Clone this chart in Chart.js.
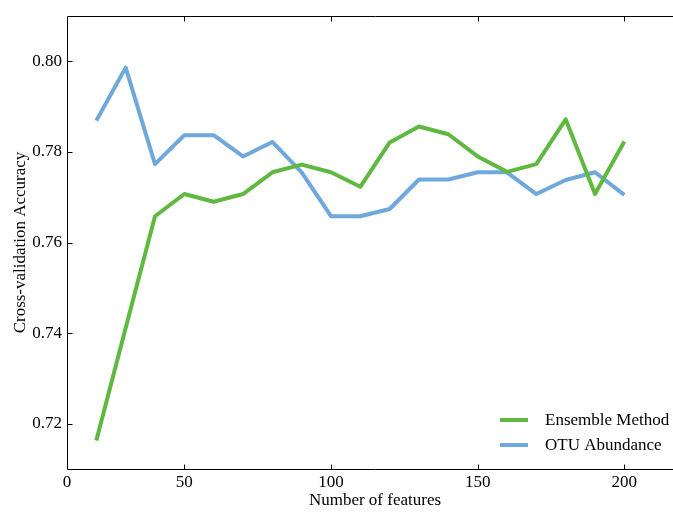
<!DOCTYPE html>
<html>
<head>
<meta charset="utf-8">
<title>Cross-validation Accuracy</title>
<script src="https://cdn.jsdelivr.net/npm/chart.js@4.4.1/dist/chart.umd.min.js"></script>
<style>
  html, body { margin: 0; padding: 0; background: #ffffff; overflow: hidden; }
  #wrap { position: absolute; left: 0; top: 0; width: 690px; height: 513px; }
</style>
</head>
<body>
<div id="wrap"><canvas id="chart" width="690" height="513"></canvas></div>
<script>
// Number of features used in each cross-validation run
const features = [20, 30, 40, 50, 60, 70, 80, 90, 100, 110, 120, 130, 140, 150, 160, 170, 180, 190, 200];

// Cross-validation accuracy for each feature count
const ensembleMethod = [0.7163, 0.7411, 0.7658, 0.7707, 0.7690, 0.7707, 0.7755, 0.7772, 0.7755, 0.7723,
                        0.7821, 0.7856, 0.7839, 0.7790, 0.7756, 0.7773, 0.7872, 0.7707, 0.7823];
const otuAbundance   = [0.7869, 0.7986, 0.7773, 0.7837, 0.7837, 0.7790, 0.7822, 0.7755, 0.7658, 0.7658,
                        0.7674, 0.7739, 0.7739, 0.7755, 0.7755, 0.7707, 0.7738, 0.7755, 0.7705];

// Axis ticks
const xTickValues = [10, 50, 100, 150, 200];
const xTickLabels = ['0', '50', '100', '150', '200'];
const yTickValues = [0.72, 0.74, 0.76, 0.78, 0.80];

const seriesNames = ['Ensemble Method', 'OTU Abundance'];
const seriesColors = ['#5fb941', '#6ea8dc'];

const FONT = "'Liberation Serif', 'Times New Roman', serif";
Chart.defaults.font.family = FONT;
Chart.defaults.font.size = 17;
Chart.defaults.color = '#000000';

// Frame with inward tick marks on bottom, top and left
const framePlugin = {
  id: 'frame',
  afterDraw(chart) {
    const {ctx, chartArea: a, scales: {x, y}} = chart;
    const L = Math.round(a.left) + 0.5, R = Math.round(a.right) + 0.5;
    const T = Math.round(a.top) + 0.5, B = Math.round(a.bottom) + 0.5;
    ctx.save();
    ctx.strokeStyle = '#000000';
    ctx.lineWidth = 1;
    ctx.beginPath();
    ctx.rect(L, T, R - L, B - T);
    ctx.stroke();
    const tl = 5;
    ctx.beginPath();
    xTickValues.forEach(v => {
      const px = Math.round(x.getPixelForValue(v)) + 0.5;
      if (px <= L + 1) return;
      ctx.moveTo(px, B); ctx.lineTo(px, B - tl);
      ctx.moveTo(px, T); ctx.lineTo(px, T + tl);
    });
    yTickValues.forEach(v => {
      const py = Math.round(y.getPixelForValue(v)) + 0.5;
      ctx.moveTo(L, py); ctx.lineTo(L + tl, py);
      ctx.moveTo(R, py); ctx.lineTo(R - tl, py);
    });
    ctx.stroke();
    ctx.restore();
  }
};

// Legend in the lower right of the plot
const legendPlugin = {
  id: 'cornerLegend',
  afterDatasetsDraw(chart) {
    const {ctx, chartArea: a} = chart;
    ctx.save();
    ctx.font = '17px ' + FONT;
    ctx.textBaseline = 'middle';
    ctx.textAlign = 'left';
    const x0 = a.right - 183;
    const rows = [a.bottom - 49, a.bottom - 24];
    chart.data.datasets.forEach((ds, i) => {
      const yy = rows[i];
      ctx.strokeStyle = ds.borderColor;
      ctx.lineWidth = 4;
      ctx.beginPath();
      ctx.moveTo(x0, yy); ctx.lineTo(x0 + 28, yy);
      ctx.stroke();
      ctx.fillStyle = '#000000';
      ctx.fillText(ds.label, x0 + 45, yy + 1);
    });
    ctx.restore();
  }
};

new Chart(document.getElementById('chart'), {
  type: 'line',
  data: {
    datasets: [
      {
        label: seriesNames[0],
        data: features.map((f, i) => ({x: f, y: ensembleMethod[i]})),
        borderColor: seriesColors[0],
        backgroundColor: seriesColors[0],
        borderWidth: 4,
        pointRadius: 0,
        tension: 0,
        fill: false,
        borderJoinStyle: 'round'
      },
      {
        label: seriesNames[1],
        data: features.map((f, i) => ({x: f, y: otuAbundance[i]})),
        borderColor: seriesColors[1],
        backgroundColor: seriesColors[1],
        borderWidth: 4,
        pointRadius: 0,
        tension: 0,
        fill: false,
        borderJoinStyle: 'round'
      }
    ]
  },
  options: {
    responsive: false,
    animation: false,
    events: [],
    layout: { padding: { top: 16, right: 7, left: 0, bottom: 0 } },
    plugins: {
      legend: { display: false },
      tooltip: { enabled: false }
    },
    scales: {
      x: {
        type: 'linear',
        min: 10,
        max: 220,
        afterBuildTicks(scale) { scale.ticks = xTickValues.map(v => ({value: v})); },
        afterFit(scale) { scale.height = 44; },
        grid: { display: false, drawTicks: false },
        border: { display: false },
        ticks: {
          padding: 3,
          maxRotation: 0,
          autoSkip: false,
          font: { size: 17 },
          callback: (v) => xTickLabels[xTickValues.indexOf(v)]
        },
        title: {
          display: true,
          text: 'Number of features',
          font: { size: 17 },
          padding: { top: 0, bottom: 2 }
        }
      },
      y: {
        type: 'linear',
        min: 0.71,
        max: 0.81,
        afterBuildTicks(scale) { scale.ticks = yTickValues.map(v => ({value: v})); },
        afterFit(scale) { scale.width = 67; },
        grid: { display: false, drawTicks: false },
        border: { display: false },
        ticks: {
          padding: 5,
          autoSkip: false,
          font: { size: 17 },
          callback: (v) => v.toFixed(2)
        },
        title: {
          display: true,
          text: 'Cross-validation Accuracy',
          font: { size: 17 },
          padding: { top: 10, bottom: 0 }
        }
      }
    }
  },
  plugins: [framePlugin, legendPlugin]
});
</script>
</body>
</html>
